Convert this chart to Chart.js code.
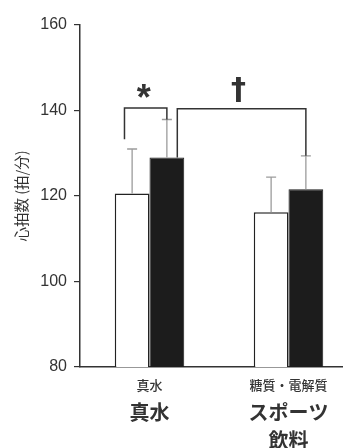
<!DOCTYPE html>
<html>
<head>
<meta charset="utf-8">
<script src="https://cdn.jsdelivr.net/npm/chart.js@4"></script>
<style>
html,body{margin:0;padding:0;background:#fff;overflow:hidden;}
#wrap{width:358px;height:448px;}
</style>
</head>
<body>
<div id="wrap"><canvas id="c" width="358" height="448"></canvas></div>
<script>
// ---- data ----
const subLabels = ['真水', '糖質・電解質'];
const mainLabels = [['真水'], ['スポーツ', '飲料']];
const whiteValues = [120.6, 116.2];
const whiteErrors = [10.4, 8.2];
const blackValues = [129.0, 121.6];
const blackErrors = [8.9, 7.8];
const yTicks = [80, 100, 120, 140, 160];
const yTitle = '心拍数 (拍/分)';
// brackets: [category, dataset] anchors and values
const bracketFrom = [[0, 0], [0, 1]];
const bracketTo = [[0, 1], [1, 1]];
const bracketLeftVals = [133.3, 129.0];
const bracketTopVals = [140.6, 140.4];
const bracketRightVals = [137.9, 129.4];
const bracketMarks = ['*', '†'];

const JP = '"Noto Sans CJK JP", sans-serif';
const AR = '"Liberation Sans", Arial, sans-serif';

const extras = {
  id: 'extras',
  afterDatasetsDraw(chart) {
    const ctx = chart.ctx, ys = chart.scales.y, xs = chart.scales.x;
    const metas = [chart.getDatasetMeta(0), chart.getDatasetMeta(1)];
    const vals = [whiteValues, blackValues];
    const errs = [whiteErrors, blackErrors];
    ctx.save();
    // error bars
    ctx.strokeStyle = '#9c9c9c';
    ctx.lineWidth = 1.3;
    metas.forEach((m, d) => m.data.forEach((bar, i) => {
      const top = ys.getPixelForValue(vals[d][i] + errs[d][i]);
      ctx.beginPath();
      ctx.moveTo(bar.x, bar.y);
      ctx.lineTo(bar.x, top);
      ctx.moveTo(bar.x - 5, top);
      ctx.lineTo(bar.x + 5, top);
      ctx.stroke();
    }));
    // brackets
    const leftOffsets = [-0.22, 0.3];
    ctx.strokeStyle = '#333';
    ctx.lineWidth = 1.5;
    bracketFrom.forEach((f, k) => {
      const b1 = metas[f[1]].data[f[0]];
      const b2 = metas[bracketTo[k][1]].data[bracketTo[k][0]];
      const x1 = b1.x + leftOffsets[k] * b1.width;
      const x2 = b2.x;
      const yl = ys.getPixelForValue(bracketLeftVals[k]);
      const yt = ys.getPixelForValue(bracketTopVals[k]);
      const yr = ys.getPixelForValue(bracketRightVals[k]);
      ctx.beginPath();
      ctx.moveTo(x1, yl);
      ctx.lineTo(x1, yt);
      ctx.lineTo(x2, yt);
      ctx.lineTo(x2, yr);
      ctx.stroke();
      const mx = (x1 + x2) / 2;
      ctx.fillStyle = '#333';
      ctx.textAlign = 'center';
      ctx.textBaseline = 'alphabetic';
      if (bracketMarks[k] === '*') {
        ctx.font = 'bold 36px ' + AR;
        ctx.fillText(bracketMarks[k], mx - 2, yt - 18 + 0.57 * 36);
      } else {
        ctx.font = 'bold 30px "DejaVu Sans", sans-serif';
        ctx.fillText(bracketMarks[k], mx - 3, yt - 18 + 0.29 * 30);
      }
    });
    // x labels
    ctx.fillStyle = '#333';
    ctx.textAlign = 'center';
    ctx.textBaseline = 'middle';
    subLabels.forEach((s, i) => {
      const px = xs.getPixelForValue(i);
      ctx.font = '500 13px ' + JP;
      ctx.fillText(s, px, 385);
      ctx.font = 'bold 20px ' + JP;
      mainLabels[i].forEach((line, j) => ctx.fillText(line, px, 412 + j * 28));
    });
    ctx.restore();
  }
};

new Chart(document.getElementById('c'), {
  type: 'bar',
  data: {
    labels: subLabels,
    datasets: [
      { data: whiteValues, backgroundColor: '#ffffff', borderColor: '#222', borderWidth: 1.5, borderSkipped: false },
      { data: blackValues, backgroundColor: '#1c1c1c', borderColor: '#1c1c1c', borderWidth: 1, borderSkipped: false }
    ]
  },
  options: {
    responsive: false,
    animation: false,
    events: [],
    layout: { padding: { top: 25, right: 0, left: 0, bottom: 0 } },
    plugins: { legend: { display: false }, tooltip: { enabled: false } },
    datasets: { bar: { barPercentage: 1, categoryPercentage: 0.5 } },
    scales: {
      x: {
        ticks: { display: false },
        grid: { display: false },
        border: { display: true, color: '#333', width: 1.5 },
        afterFit: s => { s.height = 81; }
      },
      y: {
        min: yTicks[0], max: yTicks[yTicks.length - 1],
        afterBuildTicks: s => { s.ticks = yTicks.map(v => ({ value: v })); },
        ticks: { color: '#333', font: { size: 16, family: AR }, padding: 7 },
        grid: { display: true, drawOnChartArea: false, drawTicks: true, tickLength: 6, color: '#333', lineWidth: 1.2 },
        border: { display: true, color: '#333', width: 1.5 },
        title: { display: true, text: yTitle, color: '#333', font: { size: 14.5, family: JP }, padding: { top: 13, bottom: 0 } },
        afterFit: s => { s.width = 80; }
      }
    }
  },
  plugins: [extras]
});
</script>
</body>
</html>
